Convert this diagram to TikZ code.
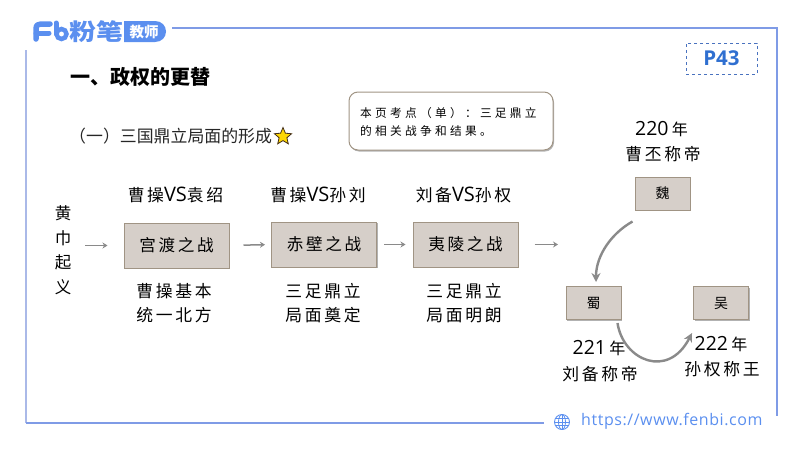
\documentclass[tikz,border=0pt]{standalone}
\usepackage{fontspec}
\setmainfont{Noto Sans CJK SC}
\newfontfamily\hw[LetterSpace=16]{Noto Sans CJK SC}
\newfontfamily\nt[LetterSpace=28]{Noto Sans CJK SC}
\newfontfamily\lat{Open Sans}
\newfontfamily\url[LetterSpace=3.5]{Open Sans}
\usetikzlibrary{shadows,shapes.geometric,arrows.meta}
\definecolor{framea}{HTML}{7F9BE6}
\definecolor{frameb}{HTML}{AAB9E8}
\definecolor{brand}{HTML}{5B8FEF}
\definecolor{pagec}{HTML}{2F6FD0}
\definecolor{boxfill}{HTML}{D6CFC9}
\definecolor{boxline}{HTML}{A09484}
\definecolor{flow}{HTML}{8A8A8A}
\tikzset{
  x=1pt,y=-1pt,
  battle/.style={draw=boxline,line width=1pt,fill=boxfill,minimum width=105pt,minimum height=45pt,inner sep=0pt,
    font=\hw\fontsize{16.6}{18}\selectfont,drop shadow={shadow xshift=1pt,shadow yshift=-1pt,opacity=.3,fill=black}},
  state/.style={battle,minimum width=55pt,minimum height=33pt,font=\hw\fontsize{14}{15}\selectfont},
  label/.style={inner sep=0pt,align=center,font=\hw\fontsize{16.8}{24}\selectfont},
  yearl/.style={inner sep=0pt,align=center,font=\lat\fontsize{19.5}{23}\selectfont},
  flowarrow/.style={draw=flow,line width=1.5pt,-{Stealth[length=5pt,width=6pt]}},
  curvearrow/.style={draw=flow,line width=2.4pt,-{Stealth[length=9pt,width=9pt]}},
  frame/.style={line width=2pt},
}
\begin{document}
\begin{tikzpicture}
\useasboundingbox (0,0) rectangle (800,450);
% frame
\draw[frame,framea] (172,28) -- (777,28) -- (777,416);
\draw[frame,frameb] (26,50) -- (26,423);
\draw[frame,framea] (26,423) -- (544,423);
% logo
\draw[brand,line width=5.5pt,line cap=round,line join=round] (36,39) -- (36,29) .. controls (36,25) and (38,24) .. (41,24) -- (50,24);
\draw[brand,line width=5pt,line cap=round] (36,33) -- (49,33);
\draw[brand,line width=5pt,line cap=round] (56,23) -- (56,34);
\draw[brand,line width=4.5pt] (61.5,34) circle (5);
\node[inner sep=0pt,anchor=west,text=brand,font=\fontsize{23}{25}\selectfont\bfseries] (brandname) at (69,32) {\scalebox{1.17}[1]{粉笔}};
\fill[brand] (124,21) -- (155,21) .. controls (162,21) and (166,26) .. (166,31.5) .. controls (166,37) and (162,42) .. (155,42) -- (124,42) -- cycle;
\node[inner sep=0pt,text=white,font=\fontsize{14.5}{16}\selectfont\bfseries] (brandtag) at (144,32) {教师};
% page tag
\node[draw=brand!80!black,dashed,line width=.9pt,minimum width=71pt,minimum height=31pt,inner sep=0pt,text=pagec,font=\lat\bfseries\fontsize{20.5}{22}\selectfont] (page) at (721.5,58.5) {P43};
% headings
\node[inner sep=0pt,anchor=west,font=\fontsize{20}{24}\selectfont\bfseries] (title) at (70,77) {一、政权的更替};
\node[inner sep=0pt,anchor=west,font=\fontsize{16.9}{20}\selectfont,text=black!85] (sub) at (69,136) {（一）三国鼎立局面的形成};
\node[star,star points=5,star point ratio=2.2,minimum size=18pt,inner sep=0pt,draw=black!65!brown,fill=yellow!75!orange,line width=.8pt] (star) at (283,136.5) {};
% note
\node[draw=boxline,line width=1pt,fill=white,rounded corners=9pt,minimum width=204pt,minimum height=58pt,inner sep=0pt,
  drop shadow={shadow xshift=1pt,shadow yshift=-1.5pt,opacity=.3,fill=black}] (note) at (451,121) {};
\node[inner sep=0pt,align=left,anchor=west,font=\nt\fontsize{11.7}{18}\selectfont] (notetext) at (360,122) {本页考点（单）：三足鼎立\\的相关战争和结果。};
% battles
\node[label,font=\hw\fontsize{16.5}{24.5}\selectfont] (huangjin) at (63,250) {黄\\巾\\起\\义};
\node[battle] (guandu) at (176.5,245.5) {宫渡之战};
\node[battle] (chibi) at (324,244.5) {赤壁之战};
\node[battle] (yiling) at (465.5,244.5) {夷陵之战};
\node[label] (vsa) at (175.5,195) {曹操{\lat\fontsize{20}{24}\selectfont VS}袁绍};
\node[label] (vsb) at (318,195) {曹操{\lat\fontsize{20}{24}\selectfont VS}孙刘};
\node[label] (vsc) at (463.5,195) {刘备{\lat\fontsize{20}{24}\selectfont VS}孙权};
\node[label] (resa) at (174,303) {曹操基本\\统一北方};
\node[label] (resb) at (323,303) {三足鼎立\\局面奠定};
\node[label] (resc) at (464,303) {三足鼎立\\局面明朗};
\coordinate (flowend) at (558,244.5);
\draw[flowarrow,shorten <=14pt,shorten >=16pt] (huangjin.east |- guandu.west) -- (guandu.west);
\draw[flowarrow,shorten <=14pt,shorten >=6pt] (guandu.east) -- (chibi.west);
\draw[flowarrow,shorten <=7pt,shorten >=7pt] (chibi.east) -- (yiling.west);
\draw[flowarrow,shorten <=16pt] (yiling.east) -- (flowend);
% states
\node[state] (wei) at (662.5,193.5) {魏};
\node[state] (shu) at (593.5,303) {蜀};
\node[state] (wu) at (721,303) {吴};
\node[yearl] (ya) at (661.5,129) {220\,{\hw\fontsize{16}{20}\selectfont 年}};
\node[label] (yb) at (663,154) {曹丕称帝};
\node[yearl] (yc) at (599,348) {221\,{\hw\fontsize{16}{20}\selectfont 年}};
\node[label] (yd) at (600,374) {刘备称帝};
\node[yearl] (ye) at (721,344) {222\,{\hw\fontsize{16}{20}\selectfont 年}};
\node[label] (yf) at (722,369) {孙权称王};
\draw[curvearrow,shorten >=4pt] ([shift={(-2,11)}]wei.south west) .. controls (612,233) and (596,255) .. ([xshift=2.5pt]shu.north);
\coordinate (wuentry) at (692,333);
\draw[curvearrow] ([shift={(-4,3)}]shu.south east) .. controls (623,360) and (668,380) .. (wuentry);
% footer
\coordinate (globe) at (562,422);
\draw[brand,line width=.9pt] (globe) circle (7.5);
\draw[brand,line width=.8pt] (globe) ellipse (3.5 and 7.5);
\draw[brand,line width=.8pt] (554.5,422) -- (569.5,422) (555.5,418.5) -- (568.5,418.5) (555.5,425.5) -- (568.5,425.5) (562,414.5) -- (562,429.5);
\node[inner sep=0pt,anchor=west,text=brand,font=\url\fontsize{16}{18}\selectfont] (web) at (581,421) {https://www.fenbi.com};
\end{tikzpicture}
\end{document}
